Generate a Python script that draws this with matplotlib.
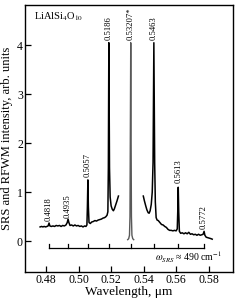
import matplotlib
matplotlib.use('Agg')
import matplotlib.pyplot as plt

plt.rcParams['font.family'] = ['Liberation Serif', 'DejaVu Serif']
plt.rcParams['mathtext.fontset'] = 'stix'

# spectrum, left part (short-wavelength side of the pump)
wl_left = [0.4763, 0.4772, 0.4780, 0.4788, 0.4797, 0.4805, 0.4812, 0.4818, 0.4823, 0.4832,
           0.4842, 0.4852, 0.4862, 0.4872, 0.4882, 0.4892, 0.4902, 0.4912, 0.4922, 0.4930,
           0.4935, 0.4940, 0.4947, 0.4957, 0.4967, 0.4977, 0.4987, 0.4997, 0.5007, 0.5017,
           0.5027, 0.5037, 0.5045, 0.5051, 0.5054, 0.5057, 0.5060, 0.5064, 0.5072, 0.5080,
           0.5090, 0.5100, 0.5110, 0.5120, 0.5130, 0.5140, 0.5150, 0.5160, 0.5168, 0.5175,
           0.5180, 0.5183, 0.5186, 0.5190, 0.5194, 0.5200, 0.5207, 0.5214, 0.5220, 0.5228,
           0.5236, 0.5245]
int_left = [0.29, 0.30, 0.29, 0.30, 0.29, 0.30, 0.31, 0.37, 0.31, 0.30,
            0.31, 0.30, 0.32, 0.31, 0.32, 0.30, 0.32, 0.31, 0.33, 0.38,
            0.45, 0.38, 0.32, 0.33, 0.31, 0.33, 0.31, 0.32, 0.30, 0.31,
            0.29, 0.31, 0.30, 0.33, 0.70, 1.25, 0.70, 0.38, 0.36, 0.39,
            0.40, 0.42, 0.41, 0.43, 0.44, 0.45, 0.47, 0.48, 0.50, 0.53,
            0.60, 1.50, 4.05, 1.50, 0.90, 0.72, 0.65, 0.62, 0.66, 0.74,
            0.82, 0.92]

# pump line
wl_pump = [0.5302, 0.5308, 0.5313, 0.5316, 0.5318, 0.53207, 0.5323, 0.5325, 0.5328, 0.5333, 0.5339]
int_pump = [0.03, 0.05, 0.12, 0.50, 2.00, 4.05, 2.00, 0.50, 0.12, 0.05, 0.03]

# spectrum, right part
wl_right = [0.5398, 0.5405, 0.5413, 0.5420, 0.5428, 0.5434, 0.5440, 0.5447, 0.5453, 0.5458,
            0.5463, 0.5468, 0.5472, 0.5477, 0.5483, 0.5490, 0.5500, 0.5510, 0.5520, 0.5530,
            0.5540, 0.5550, 0.5560, 0.5570, 0.5580, 0.5590, 0.5600, 0.5607, 0.5610, 0.5613,
            0.5616, 0.5620, 0.5628, 0.5638, 0.5648, 0.5658, 0.5668, 0.5678, 0.5688, 0.5698,
            0.5708, 0.5718, 0.5728, 0.5738, 0.5748, 0.5758, 0.5766, 0.5772, 0.5777, 0.5785,
            0.5795, 0.5805, 0.5815, 0.5822]
int_right = [0.92, 0.82, 0.72, 0.64, 0.58, 0.57, 0.62, 0.75, 1.00, 1.60,
             4.05, 1.60, 0.80, 0.48, 0.43, 0.42, 0.38, 0.34, 0.33, 0.30,
             0.28, 0.24, 0.22, 0.22, 0.21, 0.22, 0.21, 0.25, 0.60, 1.10,
             0.60, 0.20, 0.16, 0.17, 0.15, 0.17, 0.15, 0.18, 0.14, 0.15,
             0.13, 0.14, 0.12, 0.14, 0.12, 0.13, 0.14, 0.20, 0.12, 0.08,
             0.07, 0.06, 0.05, 0.04]

# peak labels: wavelength, text, height of label base
peak_wl = [0.4818, 0.4935, 0.5057, 0.5186, 0.53207, 0.5463, 0.5613, 0.5772]
peak_txt = ['0.4818', '0.4935', '0.5057', '0.5186', '0.53207*', '0.5463', '0.5613', '0.5772']
peak_lab_y = [0.42, 0.48, 1.30, 4.10, 4.10, 4.10, 1.18, 0.24]

xticks = [0.48, 0.50, 0.52, 0.54, 0.56, 0.58]
yticks = [0, 1, 2, 3, 4]

fig = plt.figure(figsize=(2.41, 3.01), dpi=100)
ax = fig.add_axes([25/241, 1 - 272/301, 208/241, 267/301])

ax.plot(wl_left, int_left, color='black', lw=1.1)
ax.plot(wl_pump, int_pump, color='0.35', lw=1.0)
ax.plot(wl_right, int_right, color='black', lw=1.1)

for w, t, y in zip(peak_wl, peak_txt, peak_lab_y):
    ax.text(w, y, t, rotation=90, ha='center', va='bottom', fontsize=6.2)

# Stokes/anti-Stokes comb
ax.plot([peak_wl[0], peak_wl[-1]], [-0.13, -0.13], color='black', lw=0.9)
for w in peak_wl:
    ax.plot([w, w], [-0.13, -0.05], color='black', lw=0.9)
ax.text(0.5472, -0.33, r'$\omega_{SRS}$ ≈ 490 cm$^{-1}$', fontsize=7, ha='left', va='center')

ax.text(0.4725, 4.58, r'LiAlSi$_4$O$_{10}$', fontsize=7.5, ha='left', va='center')

ax.set_xlim(0.467, 0.595)
ax.set_ylim(-0.63, 4.82)
ax.set_xticks(xticks)
ax.set_xticklabels(['%.2f' % v for v in xticks])
ax.set_yticks(yticks)
ax.tick_params(direction='in', length=4, width=0.9, labelsize=8.5, pad=1.5)
ax.set_xlabel('Wavelength, μm', fontsize=9.5, labelpad=0)
ax.set_ylabel('SRS and RFWM intensity, arb. units', fontsize=9, labelpad=3)
for s in ax.spines.values():
    s.set_linewidth(1.0)

fig.savefig('out.png', dpi=100)
